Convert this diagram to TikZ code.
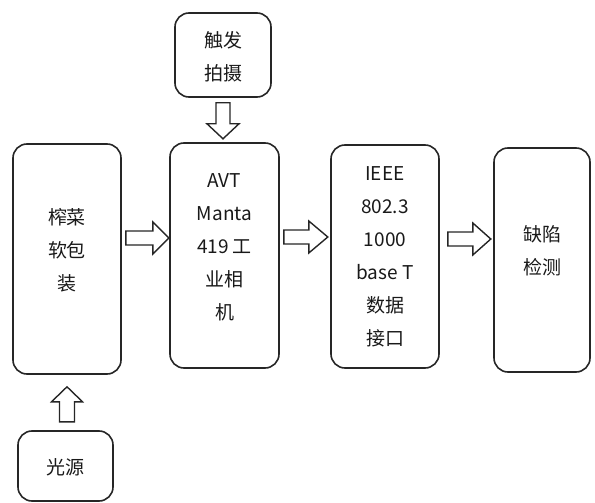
\documentclass[tikz,border=0pt]{standalone}
\usepackage{fontspec}
\setmainfont{Noto Sans CJK SC}
\usetikzlibrary{calc}
\tikzset{
  box/.style={draw=black!85, line width=1.6pt, rounded corners=14pt, inner sep=0pt},
  txt/.style={align=center, inner sep=0pt, font=\fontsize{19}{33}\selectfont, text=black!90},
  blk/.style={draw=black!85, line width=1.4pt, fill=white, line join=miter}
}
\begin{document}
\begin{tikzpicture}[x=1pt,y=-1pt]
\useasboundingbox (0,0) rectangle (595,503);
% boxes
\node[box, minimum width=108pt, minimum height=230pt] (pack) at (67,259) {};
\node[box, minimum width=109pt, minimum height=225pt] (cam) at (224.5,255.5) {};
\node[box, minimum width=108pt, minimum height=223pt] (ieee) at (385,256.5) {};
\node[box, minimum width=96pt, minimum height=224pt] (defect) at (542,260) {};
\node[box, minimum width=96pt, minimum height=84pt] (trig) at (223,55) {};
\node[box, minimum width=95pt, minimum height=70pt] (light) at (65.5,466) {};
% texts
\node[txt] (packT) at (67,250) {榨菜\\软包\\装};
\node[txt] (camT) at (224.5,247) {AVT\\Manta\\419 工\\业相\\机};
\node[txt] (ieeeT) at (385,256.5) {IEEE\\802.3\\1000\\base T\\数据\\接口};
\node[txt] (defectT) at (542,251) {缺陷\\检测};
\node[txt] (trigT) at (223,56.5) {触发\\拍摄};
\node[txt] (lightT) at (65.5,467) {光源};
% block arrows
\draw[blk] ($(pack.east)+(4,-28)$) -- ++(27,0) -- ++(0,-9) -- ++(16,16) -- ++(-16,16) -- ++(0,-9) -- ++(-27,0) -- cycle;
\draw[blk] ($(cam.east)+(4,-25.5)$) -- ++(25,0) -- ++(0,-9) -- ++(19,16) -- ++(-19,16) -- ++(0,-9) -- ++(-25,0) -- cycle;
\draw[blk] ($(ieee.east)+(8,-24.5)$) -- ++(25,0) -- ++(0,-9) -- ++(18,16) -- ++(-18,16) -- ++(0,-9) -- ++(-25,0) -- cycle;
\draw[blk] ($(trig.south)+(-7,5)$) -- ++(0,21) -- ++(-9,0) -- ++(16,15) -- ++(16,-15) -- ++(-9,0) -- ++(0,-21) -- cycle;
\draw[blk] ($(pack.south)+(-7.5,47)$) -- ++(0,-20) -- ++(-8,0) -- ++(15.5,-15) -- ++(15.5,15) -- ++(-8,0) -- ++(0,20) -- cycle;
\end{tikzpicture}
\end{document}
